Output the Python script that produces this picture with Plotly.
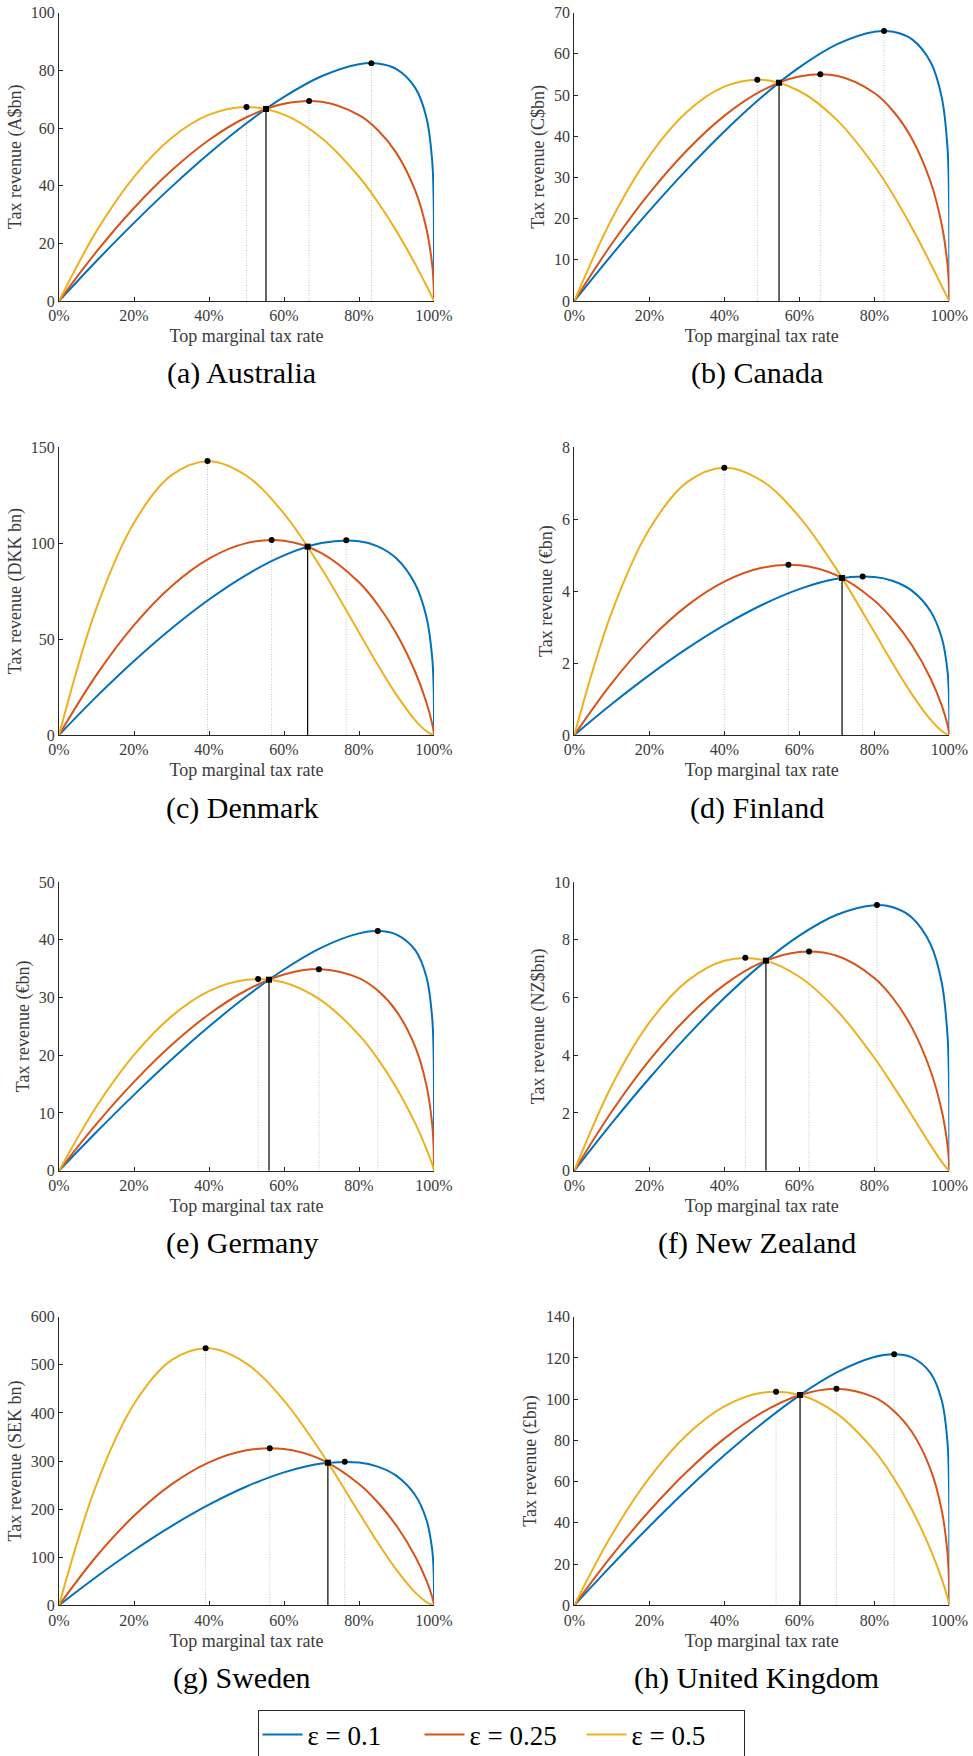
import plotly.graph_objects as go

# ---------------- data ----------------
TAX_RATE = [0, 0.1, 0.2, 0.3, 0.4, 0.5, 0.6, 0.7, 0.8, 0.85, 0.9, 0.95, 0.98, 0.995, 0.999, 1.0]
TAX_RATE_TICKS = [0, 0.2, 0.4, 0.6, 0.8, 1.0]
TAX_RATE_TICK_LABELS = ["0%", "20%", "40%", "60%", "80%", "100%"]
ELASTICITY_LABELS = ["ε = 0.1", "ε = 0.25", "ε = 0.5"]

CAPTIONS = ["(a) Australia", "(b) Canada", "(c) Denmark", "(d) Finland",
            "(e) Germany", "(f) New Zealand", "(g) Sweden", "(h) United Kingdom"]
Y_TITLES = ["Tax revenue (A$bn)", "Tax revenue (C$bn)", "Tax revenue (DKK bn)",
            "Tax revenue (€bn)", "Tax revenue (€bn)", "Tax revenue (NZ$bn)",
            "Tax revenue (SEK bn)", "Tax revenue (£bn)"]
Y_MAX = [100, 70, 150, 8, 50, 10, 600, 140]
Y_STEP = [20, 10, 50, 2, 10, 2, 100, 20]

# revenue curves for eps = 0.1, 0.25, 0.5
AUS_REV_01 = [0, 13.87, 27.10, 39.58, 51.16, 61.67, 70.77, 77.95, 82.14, 82.40, 80.45, 73.93, 63.49, 48.85, 35.55, 0]
AUS_REV_025 = [0, 17.10, 32.25, 45.24, 55.85, 63.73, 68.40, 69.11, 64.49, 59.34, 51.30, 38.29, 24.98, 12.68, 5.69, 0]
AUS_REV_05 = [0, 24.24, 43.09, 56.56, 64.63, 67.33, 64.63, 56.56, 43.09, 34.34, 24.24, 12.79, 5.28, 1.34, 0.27, 0]

CAN_REV_01 = [0, 11.21, 21.87, 31.89, 41.17, 49.53, 56.71, 62.29, 65.37, 65.39, 63.58, 58.02, 49.38, 37.47, 26.83, 0]
CAN_REV_025 = [0, 13.90, 26.14, 36.55, 44.95, 51.06, 54.50, 54.67, 50.50, 46.13, 39.48, 28.96, 18.47, 9.06, 3.91, 0]
CAN_REV_05 = [0, 19.91, 35.19, 45.88, 52.04, 53.71, 50.99, 43.98, 32.84, 25.79, 17.84, 9.10, 3.59, 0.85, 0.16, 0]

DNK_REV_01 = [0, 19.99, 38.56, 55.53, 70.64, 83.53, 93.64, 100.07, 101.06, 98.36, 92.03, 78.63, 61.34, 40.80, 25.08, 0]
DNK_REV_025 = [0, 31.33, 57.27, 77.59, 91.98, 100.05, 101.28, 94.88, 79.60, 67.92, 52.79, 32.85, 16.85, 5.94, 1.75, 0]
DNK_REV_05 = [0, 66.25, 110.71, 135.48, 142.79, 135.17, 115.41, 86.83, 53.47, 36.64, 20.90, 7.67, 1.96, 0.24, 0.02, 0]

FIN_REV_01 = [0, 0.862, 1.665, 2.400, 3.055, 3.615, 4.057, 4.342, 4.394, 4.283, 4.015, 3.443, 2.698, 1.807, 1.120, 0]
FIN_REV_025 = [0, 1.445, 2.645, 3.590, 4.264, 4.648, 4.719, 4.437, 3.741, 3.203, 2.502, 1.571, 0.815, 0.293, 0.088, 0]
FIN_REV_05 = [0, 3.414, 5.721, 7.024, 7.432, 7.068, 6.068, 4.599, 2.861, 1.974, 1.138, 0.425, 0.111, 0.014, 0.001, 0]

DEU_REV_01 = [0, 6.70, 13.13, 19.24, 24.96, 30.21, 34.85, 38.64, 41.10, 41.50, 40.90, 38.19, 33.50, 26.61, 20.09, 0]
DEU_REV_025 = [0, 8.11, 15.39, 21.76, 27.10, 31.25, 33.98, 34.90, 33.34, 31.19, 27.60, 21.44, 14.74, 8.11, 3.99, 0]
DEU_REV_05 = [0, 11.13, 20.05, 26.73, 31.09, 33.07, 32.58, 29.46, 23.52, 19.37, 14.33, 8.19, 3.75, 1.12, 0.27, 0]

NZL_REV_01 = [0, 1.647, 3.203, 4.653, 5.980, 7.156, 8.142, 8.867, 9.198, 9.124, 8.768, 7.842, 6.499, 4.737, 3.238, 0]
NZL_REV_025 = [0, 2.050, 3.821, 5.292, 6.435, 7.214, 7.576, 7.443, 6.676, 5.973, 4.964, 3.463, 2.066, 0.916, 0.352, 0]
NZL_REV_05 = [0, 2.951, 5.128, 6.557, 7.272, 7.310, 6.719, 5.558, 3.913, 2.948, 1.923, 0.887, 0.306, 0.059, 0.009, 0]

SWE_REV_01 = [0, 59.33, 114.38, 164.57, 209.12, 246.94, 276.40, 294.79, 296.87, 288.34, 269.02, 228.75, 177.30, 116.80, 70.98, 0]
SWE_REV_025 = [0, 101.96, 186.02, 251.43, 297.25, 322.31, 324.99, 302.95, 252.35, 214.23, 165.33, 101.63, 51.30, 17.67, 5.05, 0]
SWE_REV_05 = [0, 251.39, 418.38, 509.56, 534.19, 502.44, 425.68, 317.05, 192.50, 130.57, 73.45, 26.29, 6.50, 0.76, 0.06, 0]

GBR_REV_01 = [0, 19.50, 38.21, 56.02, 72.73, 88.11, 101.75, 112.98, 120.42, 121.77, 120.25, 112.66, 99.27, 79.41, 60.45, 0]
GBR_REV_025 = [0, 24.07, 45.75, 64.80, 80.86, 93.45, 101.88, 105.03, 100.83, 94.67, 84.20, 65.97, 45.89, 25.67, 12.90, 0]
GBR_REV_05 = [0, 34.18, 61.77, 82.61, 96.47, 103.08, 102.10, 93.01, 75.00, 62.22, 46.49, 27.04, 12.68, 3.91, 0.98, 0]

# revenue-maximising rates and revenues (eps = 0.1, 0.25, 0.5)
AUS_PEAK_RATE = [0.833, 0.667, 0.500]
AUS_PEAK_REV = [82.49, 69.38, 67.33]
CAN_PEAK_RATE = [0.826, 0.656, 0.488]
CAN_PEAK_REV = [65.55, 55.05, 53.74]
DNK_PEAK_RATE = [0.766, 0.567, 0.396]
DNK_PEAK_REV = [101.51, 101.67, 142.80]
FIN_PEAK_RATE = [0.769, 0.571, 0.400]
FIN_PEAK_REV = [4.410, 4.733, 7.432]
DEU_PEAK_RATE = [0.850, 0.693, 0.531]
DEU_PEAK_REV = [41.50, 34.91, 33.19]
NZL_PEAK_RATE = [0.807, 0.626, 0.456]
NZL_PEAK_REV = [9.200, 7.593, 7.373]
SWE_PEAK_RATE = [0.762, 0.562, 0.391]
SWE_PEAK_REV = [298.53, 326.75, 534.44]
GBR_PEAK_RATE = [0.853, 0.699, 0.538]
GBR_PEAK_REV = [121.77, 105.03, 103.63]

# current top rate and revenue
CURRENT_RATE = [0.552, 0.546, 0.663, 0.714, 0.560, 0.511, 0.717, 0.602]
CURRENT_REV = [66.6, 53.0, 98.2, 4.366, 33.08, 7.275, 296.5, 102.0]

REVENUE = [
    [AUS_REV_01, AUS_REV_025, AUS_REV_05],
    [CAN_REV_01, CAN_REV_025, CAN_REV_05],
    [DNK_REV_01, DNK_REV_025, DNK_REV_05],
    [FIN_REV_01, FIN_REV_025, FIN_REV_05],
    [DEU_REV_01, DEU_REV_025, DEU_REV_05],
    [NZL_REV_01, NZL_REV_025, NZL_REV_05],
    [SWE_REV_01, SWE_REV_025, SWE_REV_05],
    [GBR_REV_01, GBR_REV_025, GBR_REV_05],
]
PEAK_RATE = [AUS_PEAK_RATE, CAN_PEAK_RATE, DNK_PEAK_RATE, FIN_PEAK_RATE,
             DEU_PEAK_RATE, NZL_PEAK_RATE, SWE_PEAK_RATE, GBR_PEAK_RATE]
PEAK_REV = [AUS_PEAK_REV, CAN_PEAK_REV, DNK_PEAK_REV, FIN_PEAK_REV,
            DEU_PEAK_REV, NZL_PEAK_REV, SWE_PEAK_REV, GBR_PEAK_REV]

# ---------------- styling / layout ----------------
COLORS = ["#0072BD", "#D95319", "#EDB120"]
AXIS_COLOR = "#262626"
TEXT_COLOR = "#3a3a3a"
FONT = "Liberation Serif"
W, H = 973, 1756
COL_X = [(59.0, 434.0), (574.3, 949.3)]
ROW_Y = [(12.7, 301.0), (447.3, 735.0), (882.0, 1170.7), (1316.7, 1605.3)]

fig = go.Figure()
layout = dict(
    width=W, height=H,
    margin=dict(l=0, r=0, t=0, b=0, autoexpand=False),
    paper_bgcolor="white", plot_bgcolor="white",
    font=dict(family=FONT, color=TEXT_COLOR, size=16),
    showlegend=True,
    legend=dict(orientation="h", x=501 / W, xanchor="center",
                y=1 - 1735 / H, yanchor="middle",
                bordercolor=AXIS_COLOR, borderwidth=1, bgcolor="white",
                font=dict(family=FONT, size=27, color="black"),
                itemwidth=40, entrywidth=107, entrywidthmode="pixels",
                tracegroupgap=0),
    annotations=[],
)

for i in range(8):
    r, c = divmod(i, 2)
    x0, x1 = COL_X[c]
    top, bot = ROW_Y[r]
    xa = "x" if i == 0 else f"x{i+1}"
    ya = "y" if i == 0 else f"y{i+1}"
    xkey = "xaxis" if i == 0 else f"xaxis{i+1}"
    ykey = "yaxis" if i == 0 else f"yaxis{i+1}"

    axis_common = dict(showline=True, linecolor=AXIS_COLOR, linewidth=1,
                       ticks="inside", ticklen=4, tickcolor=AXIS_COLOR, tickwidth=1,
                       showgrid=False, zeroline=False, ticklabeloverflow="allow",
                       tickfont=dict(family=FONT, size=16, color=TEXT_COLOR))
    layout[xkey] = dict(axis_common, domain=[x0 / W, x1 / W], anchor=ya,
                        range=[0, 1], tickvals=TAX_RATE_TICKS,
                        ticktext=TAX_RATE_TICK_LABELS,
                        title=dict(text="Top marginal tax rate", standoff=6,
                                   font=dict(family=FONT, size=18, color=TEXT_COLOR)))
    layout[ykey] = dict(axis_common, domain=[1 - bot / H, 1 - top / H], anchor=xa,
                        range=[0, Y_MAX[i]], dtick=Y_STEP[i], tick0=0,
                        title=dict(text=Y_TITLES[i], standoff=4,
                                   font=dict(family=FONT, size=18, color=TEXT_COLOR)))

    # dotted guides at revenue-maximising rates
    for k in range(3):
        fig.add_trace(go.Scatter(
            x=[PEAK_RATE[i][k], PEAK_RATE[i][k]], y=[0, PEAK_REV[i][k]],
            mode="lines", line=dict(color="#c4c4c4", width=1, dash="1px,1.5px"),
            xaxis=xa, yaxis=ya, showlegend=False, hoverinfo="skip"))
    # current rate
    fig.add_trace(go.Scatter(
        x=[CURRENT_RATE[i], CURRENT_RATE[i]], y=[0, CURRENT_REV[i]],
        mode="lines", line=dict(color="black", width=1.2),
        xaxis=xa, yaxis=ya, showlegend=False, hoverinfo="skip"))
    # Laffer curves
    for k in range(3):
        fig.add_trace(go.Scatter(
            x=TAX_RATE, y=REVENUE[i][k], mode="lines",
            line=dict(color=COLORS[k], width=2, shape="spline", smoothing=1),
            name=ELASTICITY_LABELS[k], legendgroup=f"e{k}",
            showlegend=(i == 0), cliponaxis=False,
            xaxis=xa, yaxis=ya))
    # peak markers
    fig.add_trace(go.Scatter(
        x=PEAK_RATE[i], y=PEAK_REV[i], mode="markers",
        marker=dict(color="black", size=6, symbol="circle"),
        xaxis=xa, yaxis=ya, showlegend=False, cliponaxis=False))
    # current point marker
    fig.add_trace(go.Scatter(
        x=[CURRENT_RATE[i]], y=[CURRENT_REV[i]], mode="markers",
        marker=dict(color="black", size=6, symbol="square"),
        xaxis=xa, yaxis=ya, showlegend=False, cliponaxis=False))

    layout["annotations"].append(dict(
        text=CAPTIONS[i], xref="paper", yref="paper",
        x=((x0 + x1) / 2 - 5) / W, y=1 - (bot + 72.5) / H,
        xanchor="center", yanchor="middle", showarrow=False,
        font=dict(family=FONT, size=30, color="black")))

fig.update_layout(**layout)
fig.write_html(
    "out.html",
    config={"displayModeBar": False},
    post_script="document.body.style.margin='0';document.body.style.overflow='hidden';",
)
